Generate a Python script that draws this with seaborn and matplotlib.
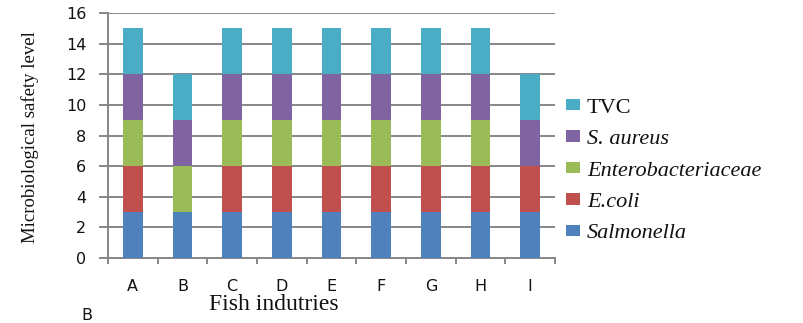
import matplotlib
matplotlib.use("Agg")
import matplotlib.pyplot as plt
from matplotlib.patches import Patch
from matplotlib.ticker import MultipleLocator, FixedLocator
import numpy as np
import pandas as pd
import seaborn as sns

# Fish industries and microbiological safety scores per indicator organism
industries = ["A", "B", "C", "D", "E", "F", "G", "H", "I"]
salmonella = [3, 3, 3, 3, 3, 3, 3, 3, 3]
e_coli = [3, 0, 3, 3, 3, 3, 3, 3, 3]
enterobacteriaceae = [3, 3, 3, 3, 3, 3, 3, 3, 0]
s_aureus = [3, 3, 3, 3, 3, 3, 3, 3, 3]
tvc = [3, 3, 3, 3, 3, 3, 3, 3, 3]

# stacking order, bottom to top
series = [
    ("Salmonella", salmonella, "#4F81BD"),
    ("E.coli", e_coli, "#C0504D"),
    ("Enterobacteriaceae", enterobacteriaceae, "#9BBB59"),
    ("S. aureus", s_aureus, "#8064A2"),
    ("TVC", tvc, "#4BACC6"),
]

sns.set_style("white")
serif = "Liberation Serif"
grid_col = "#878787"
text_col = "#111111"

fig = plt.figure(figsize=(8.04, 3.23), dpi=100)
ax = fig.add_axes([108 / 804, 1 - 258 / 323, (555 - 108) / 804, (258 - 13) / 323])

base = np.zeros(len(industries))
for name, vals, col in series:
    df = pd.DataFrame({"industry": industries, "value": vals})
    sns.barplot(data=df, x="industry", y="value", order=industries,
                color=col, saturation=1, width=0.4, bottom=base.copy(),
                linewidth=0, errorbar=None, ax=ax, zorder=3, legend=False)
    base += np.asarray(vals, dtype=float)

if ax.get_legend() is not None:
    ax.get_legend().remove()

ax.set_xlim(-0.5, len(industries) - 0.5)
ax.set_ylim(0, 16)
ax.yaxis.set_major_locator(MultipleLocator(2))
ax.grid(axis="y", color=grid_col, linewidth=1.4, zorder=0)
ax.grid(axis="x", visible=False)

for side in ("top", "right"):
    ax.spines[side].set_visible(False)
for side in ("left", "bottom"):
    ax.spines[side].set_color(grid_col)
    ax.spines[side].set_linewidth(1.4)

# category separators on the x axis
ax.xaxis.set_minor_locator(FixedLocator(np.arange(-0.5, len(industries), 1.0)))
ax.tick_params(axis="x", which="major", length=0, pad=15, labelsize=11.5,
               labelcolor=text_col)
ax.tick_params(axis="x", which="minor", length=4, width=1.4, color=grid_col,
               direction="out", bottom=True)
ax.tick_params(axis="y", which="major", length=6.5, width=1.4, color=grid_col,
               pad=9, labelsize=11.5, labelcolor=text_col, left=True)
ax.set_xlabel("")
ax.set_ylabel("")

fig.text(30 / 804, 1 - 137 / 323, "Microbiological safety level", rotation=90,
         ha="center", va="center", fontsize=13.5, family=serif, color=text_col)
fig.text(274 / 804, 1 - 305 / 323, "Fish indutries", ha="center", va="center",
         fontsize=17, family=serif, color=text_col)
fig.text(87 / 804, 1 - 316 / 323, "B", ha="center", va="center",
         fontsize=11.5, color=text_col)

handles = [Patch(facecolor=col, edgecolor="none") for _, _, col in series][::-1]
labels = [name for name, _, _ in series][::-1]
leg = fig.legend(handles, labels, loc="center left",
                 bbox_to_anchor=(566 / 804, 1 - 171 / 323), frameon=False,
                 prop={"family": serif, "size": 16}, handlelength=0.64,
                 handleheight=0.4, handletextpad=0.3, labelspacing=0.56,
                 borderpad=0, borderaxespad=0)
for t in leg.get_texts():
    t.set_color(text_col)
    if t.get_text() != "TVC":
        t.set_style("italic")

fig.savefig("out.png", dpi=100)
